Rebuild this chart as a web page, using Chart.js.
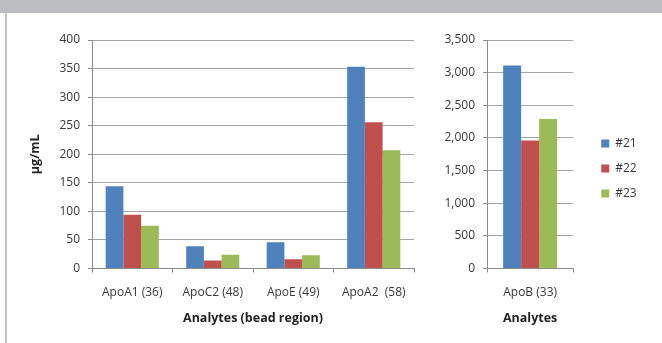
<!DOCTYPE html>
<html>
<head>
<meta charset="utf-8">
<script src="https://cdn.jsdelivr.net/npm/chart.js@4/dist/chart.umd.min.js"></script>
<style>
  html, body { margin: 0; padding: 0; background: #fff; }
  #frame { position: relative; width: 662px; height: 343px; overflow: hidden; background: #fff; }
  #band { position: absolute; left: 0; top: 0; width: 662px; height: 13px; background: #bcbdc1; }
  #edge { position: absolute; left: 5px; top: 13px; width: 2px; height: 330px; background: #c4c5c8; }
  #left { position: absolute; left: 0; top: 0; }
  #right { position: absolute; left: 430px; top: 0; }
</style>
</head>
<body>
<div id="frame">
  <div id="band"></div>
  <div id="edge"></div>
  <canvas id="left" width="440" height="343"></canvas>
  <canvas id="right" width="232" height="343"></canvas>
</div>
<script>
// Analytes by bead region, three samples
const analytes = ['ApoA1 (36)', 'ApoC2 (48)', 'ApoE (49)', 'ApoA2  (58)'];
const sample21 = [144, 39, 46, 353];
const sample22 = [94, 14, 16, 256];
const sample23 = [75, 24, 23, 207];

// ApoB is plotted on its own scale
const apoBLabel = ['ApoB (33)'];
const apoB21 = [3110];
const apoB22 = [1960];
const apoB23 = [2290];

const seriesNames = ['#21', '#22', '#23'];
const seriesColors = ['#4f81bd', '#c0504d', '#9bbb59'];

const FONT = "'Open Sans', 'Noto Sans', sans-serif";
const TEXT = '#383838';
const GRID = '#a6a6a6';
const AXIS = '#8c8c8c';

Chart.defaults.font.family = FONT;
Chart.defaults.color = TEXT;

function datasets(values) {
  return values.map((v, i) => ({
    label: seriesNames[i],
    data: v,
    backgroundColor: seriesColors[i],
    borderWidth: 0
  }));
}

function yScale(max, step, width, title, fmt) {
  return {
    min: 0, max: max,
    ticks: { stepSize: step, padding: 8, font: { size: 12 }, color: TEXT, callback: fmt },
    grid: { color: GRID, lineWidth: 1, drawTicks: true, tickLength: 4, tickColor: AXIS },
    border: { color: AXIS, width: 1 },
    title: title ? { display: true, text: title, font: { size: 12.5, weight: 'bold' }, color: '#222', padding: { top: 28, bottom: 0 } } : { display: false },
    afterFit: s => { s.width = width; }
  };
}

function xScale(title, height) {
  return {
    ticks: { padding: 13, font: { size: 12 }, color: TEXT, maxRotation: 0, autoSkip: false },
    grid: { offset: true, drawOnChartArea: false, drawTicks: true, tickLength: 4, color: AXIS },
    border: { color: AXIS, width: 1 },
    title: { display: true, text: title, font: { size: 12.5, weight: 'bold' }, color: '#222', padding: { top: 4, bottom: 17 } },
    afterFit: s => { s.height = height; }
  };
}

// moves the legend block after layout without disturbing the plot area
const legendNudge = {
  id: 'legendNudge',
  afterLayout(chart, args, opts) {
    const lg = chart.legend;
    if (!lg) return;
    lg.left += opts.x; lg.right += opts.x;
    lg.top += opts.y; lg.bottom += opts.y;
  }
};

new Chart(document.getElementById('left'), {
  type: 'bar',
  data: { labels: analytes, datasets: datasets([sample21, sample22, sample23]) },
  options: {
    responsive: false, animation: false, devicePixelRatio: 1, events: [],
    layout: { padding: { top: 40, right: 26, bottom: 0, left: 0 } },
    datasets: { bar: { categoryPercentage: 0.66, barPercentage: 1 } },
    plugins: { legend: { display: false }, tooltip: { enabled: false } },
    scales: {
      x: xScale('Analytes (bead region)', 74.5),
      y: yScale(400, 50, 92, 'µg/mL')
    }
  }
});

new Chart(document.getElementById('right'), {
  type: 'bar',
  data: { labels: apoBLabel, datasets: datasets([apoB21, apoB22, apoB23]) },
  plugins: [legendNudge],
  options: {
    responsive: false, animation: false, devicePixelRatio: 1, events: [],
    layout: { padding: { top: 40, right: 41, bottom: 0, left: 0 } },
    datasets: { bar: { categoryPercentage: 0.625, barPercentage: 1 } },
    plugins: {
      tooltip: { enabled: false },
      legend: {
        position: 'right',
        labels: { boxWidth: 8, boxHeight: 8, padding: 13, font: { size: 12 }, color: TEXT }
      },
      legendNudge: { x: 15, y: -23 }
    },
    scales: {
      x: xScale('Analytes', 74.5),
      y: yScale(3500, 500, 57, null, v => v.toLocaleString('en-US'))
    }
  }
});
</script>
</body>
</html>
